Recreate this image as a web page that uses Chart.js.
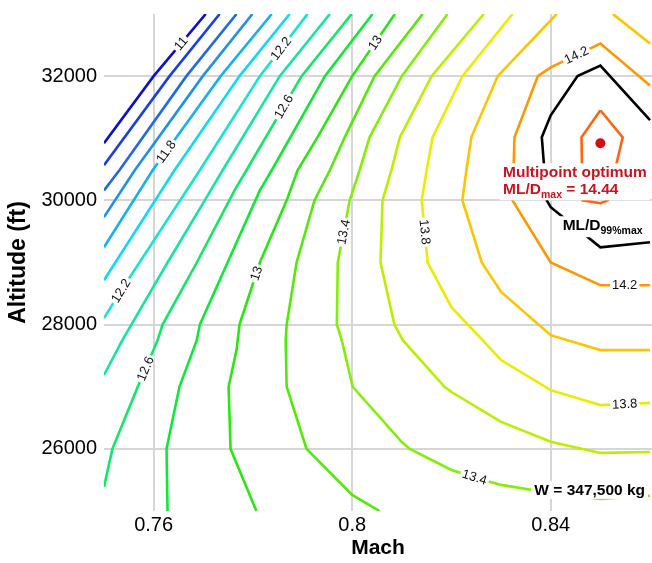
<!DOCTYPE html>
<html><head><meta charset="utf-8">
<script src="https://cdn.jsdelivr.net/npm/chart.js@4/dist/chart.umd.min.js"></script>
<style>html,body{margin:0;padding:0;background:#fff}#wrap{width:652px;height:563px}</style>
</head><body><div id="wrap"><canvas id="c" width="652" height="563"></canvas></div>
<script>
// ---- data (Mach, Altitude ft) ----
const machTicks = [0.76, 0.80, 0.84];
const altTicks = [26000, 28000, 30000, 32000];

const c11_0 = [[0.7705,33000],[0.7600,32000],[0.7500,30920]];
const c11_2 = [[0.7733,33000],[0.7632,32000],[0.7500,30565]];
const c11_4 = [[0.7767,33000],[0.7666,32000],[0.7531,30485],[0.7500,30160]];
const c11_6 = [[0.7799,33000],[0.7699,32000],[0.7562,30485],[0.7500,29730]];
const c11_8 = [[0.7838,33000],[0.7735,32000],[0.7598,30485],[0.7500,29245]];
const c12_0 = [[0.7874,33000],[0.7773,32000],[0.7642,30485],[0.7500,28715]];
const c12_2 = [[0.7910,33000],[0.7814,32000],[0.7693,30485],[0.7535,28555],[0.7500,28105]];
const c12_4 = [[0.7955,33000],[0.7854,32000],[0.7739,30485],[0.7703,30000],[0.7628,29000],[0.7537,27750],[0.7500,27190]];
const c12_6 = [[0.7999,33000],[0.7898,32000],[0.7787,30485],[0.7763,30160],[0.7687,29000],[0.7618,28000],[0.7608,27750],[0.7568,27000],[0.7517,26000],[0.7500,25385]];
const c12_8 = [[0.8041,33000],[0.7945,32000],[0.7838,30485],[0.7814,30160],[0.7749,29000],[0.7693,28000],[0.7687,27750],[0.7652,27000],[0.7626,26000],[0.7628,25000]];
const c13_0 = [[0.8086,33000],[0.8000,32000],[0.7930,31015],[0.7890,30485],[0.7868,30000],[0.7814,29000],[0.7773,28000],[0.7767,27590],[0.7751,27000],[0.7755,26000],[0.7807,25000]];
const c13_2 = [[0.8142,33000],[0.8045,32000],[0.7985,31015],[0.7955,30485],[0.7924,30000],[0.7888,29000],[0.7868,28000],[0.7866,27750],[0.7868,27000],[0.7908,26000],[0.8000,25260],[0.8055,25000]];
const c13_4 = [[0.8192,33000],[0.8100,32000],[0.8035,31015],[0.8015,30485],[0.7995,30000],[0.7971,29000],[0.7969,28000],[0.7979,27750],[0.8001,27000],[0.8100,26110],[0.8116,26000],[0.8200,25660],[0.8277,25470],[0.8300,25420],[0.8400,25290],[0.8500,25195],[0.8600,25245]];
const c13_6 = [[0.8265,33000],[0.8160,32000],[0.8096,31015],[0.8079,30485],[0.8061,30000],[0.8057,29000],[0.8085,28000],[0.8102,27750],[0.8186,27000],[0.8200,26915],[0.8300,26435],[0.8400,26115],[0.8500,25935],[0.8600,25950]];
const c13_8 = [[0.8323,33000],[0.8222,32000],[0.8162,31015],[0.8150,30485],[0.8140,30000],[0.8152,29000],[0.8200,28280],[0.8233,28000],[0.8257,27800],[0.8300,27430],[0.8400,26945],[0.8500,26705],[0.8600,26740]];
const c14_0a = [[0.8412,33000],[0.8293,32000],[0.8240,31015],[0.8230,30485],[0.8222,30000],[0.8261,29000],[0.8300,28525],[0.8400,27830],[0.8500,27590],[0.8600,27590]];
const c14_0b = [[0.8525,33000],[0.8600,32525]];
const c14_2 = [[0.8600,28635],[0.8500,28635],[0.8400,29000],[0.8323,30000],[0.8327,31015],[0.8374,32000],[0.8400,32140],[0.8500,32525],[0.8600,31850]];
const cML99 = [[0.8600,29325],[0.8500,29245],[0.8400,29890],[0.8392,30000],[0.8382,31015],[0.8400,31370],[0.8454,32000],[0.8500,32170],[0.8600,31290]];
const c14_4 = [[0.8500,31450],[0.8545,31015],[0.8515,30000],[0.8500,29955],[0.8464,30000],[0.8462,31015],[0.8500,31450]];

const optimumPoint = [0.85, 30920];
const optimumValue = 14.44;
const weightText = 'W = 347,500 kg';

const contourLevels = [11.0,11.2,11.4,11.6,11.8,12.0,12.2,12.4,12.6,12.8,13.0,13.2,13.4,13.6,13.8,14.0,14.0,14.2,14.3,14.4];
const contourLines  = [c11_0,c11_2,c11_4,c11_6,c11_8,c12_0,c12_2,c12_4,c12_6,c12_8,c13_0,c13_2,c13_4,c13_6,c13_8,c14_0a,c14_0b,c14_2,cML99,c14_4];
const contourColors = ['#0b0fd6','#1a3fe6','#1f69ea','#2090ec','#16b2f0','#10d9f2','#12e6cc','#14e79c','#10e868','#10e838','#28e810','#52ea08','#84ee08','#b8f000','#ecec00','#ffc400','#ffc400','#ff9800','#000000','#ff6410'];

const contourLabels = [
  {text:'11',   level:11.0, m:0.7655, a:32525},
  {text:'11.8', level:11.8, m:0.7626, a:30778},
  {text:'12.2', level:12.2, m:0.7857, a:32441},
  {text:'12.2', level:12.2, m:0.7538, a:28527},
  {text:'12.6', level:12.6, m:0.7864, a:31502},
  {text:'12.6', level:12.6, m:0.7582, a:27296},
  {text:'13',   level:13.0, m:0.8045, a:32547},
  {text:'13',   level:13.0, m:0.7807, a:28823},
  {text:'13.4', level:13.4, m:0.7981, a:29492},
  {text:'13.8', level:13.8, m:0.8146, a:29492},
  {text:'13.4', level:13.4, m:0.8247, a:25553},
  {text:'13.8', level:13.8, m:0.8549, a:26706},
  {text:'14.2', level:14.2, m:0.8549, a:28635},
  {text:'14.2', level:14.2, m:0.8452, a:32333}
];

// annotation anchors (data coords)
const noteOpt = {m:0.8304, a1:30371, a2:30098};
const noteML99 = {m:0.8424, a:29519};
const noteW = {m:0.8367, a:25259};

const F = '"Liberation Sans", Arial, Helvetica, sans-serif';

const datasets = contourLines.map((pts, i) => ({
  data: pts.map(p => ({x:p[0], y:p[1]})),
  showLine: true, borderColor: contourColors[i], backgroundColor: contourColors[i],
  borderWidth: 2.6, pointRadius: 0, pointHoverRadius: 0, tension: 0, fill: false
}));
datasets.push({
  data: [{x:optimumPoint[0], y:optimumPoint[1]}],
  showLine: false, pointRadius: 5, pointBackgroundColor: '#d40d12', pointBorderColor: '#d40d12', pointBorderWidth: 0
});

function nearestOnLine(px, py, pts) {
  let best = null;
  for (let i = 0; i < pts.length - 1; i++) {
    const [x0, y0] = pts[i], [x1, y1] = pts[i+1];
    const dx = x1 - x0, dy = y1 - y0;
    const L = dx*dx + dy*dy;
    let t = L ? ((px - x0)*dx + (py - y0)*dy) / L : 0;
    t = Math.max(0, Math.min(1, t));
    const qx = x0 + t*dx, qy = y0 + t*dy;
    const d = (qx-px)*(qx-px) + (qy-py)*(qy-py);
    if (!best || d < best.d) {
      let ax = dx, ay = dy;
      if (ax < 0) { ax = -ax; ay = -ay; }
      best = {d, x:qx, y:qy, ang: Math.atan2(ay, ax)};
    }
  }
  return best;
}

function richDraw(ctx, parts, x, y, draw) {
  let cx = x;
  parts.forEach(p => {
    ctx.font = 'bold ' + p.size + 'px ' + F;
    if (draw) ctx.fillText(p.t, cx, y + (p.dy || 0));
    cx += ctx.measureText(p.t).width;
  });
  return cx - x;
}

const overlay = {
  id: 'overlay',
  afterDatasetsDraw(chart) {
    const {ctx, scales:{x, y}, chartArea:ca} = chart;
    ctx.save();
    ctx.beginPath(); ctx.rect(ca.left, ca.top, ca.width, ca.height); ctx.clip();
    ctx.font = '13px ' + F;
    ctx.textAlign = 'center'; ctx.textBaseline = 'middle';
    contourLabels.forEach(l => {
      const idx = contourLevels.indexOf(l.level);
      const pts = contourLines[idx].map(p => [x.getPixelForValue(p[0]), y.getPixelForValue(p[1])]);
      const n = nearestOnLine(x.getPixelForValue(l.m), y.getPixelForValue(l.a), pts);
      const w = ctx.measureText(l.text).width;
      ctx.save();
      ctx.translate(n.x, n.y); ctx.rotate(n.ang);
      ctx.fillStyle = '#fff';
      ctx.fillRect(-w/2 - 2, -4, w + 4, 8);
      ctx.fillStyle = '#111';
      ctx.fillText(l.text, 0, 0.5);
      ctx.restore();
    });
    ctx.textAlign = 'left'; ctx.textBaseline = 'alphabetic';
    const ox = x.getPixelForValue(noteOpt.m), oy1 = y.getPixelForValue(noteOpt.a1), oy2 = y.getPixelForValue(noteOpt.a2);
    const line1 = [{t:'Multipoint optimum', size:15.5}];
    const line2 = [{t:'ML/D', size:15.5}, {t:'max', size:10.5, dy:4}, {t:' = ' + optimumValue.toFixed(2), size:15.5}];
    const w1 = richDraw(ctx, line1, ox, oy1, false), w2 = richDraw(ctx, line2, ox, oy2, false);
    ctx.fillStyle = '#fff';
    ctx.fillRect(ox - 3, oy1 - 14, Math.max(w1, w2) + 6, oy2 - oy1 + 20);
    ctx.fillStyle = '#cc1420';
    richDraw(ctx, line1, ox, oy1, true);
    richDraw(ctx, line2, ox, oy2, true);
    const mx = x.getPixelForValue(noteML99.m), my = y.getPixelForValue(noteML99.a);
    const ml = [{t:'ML/D', size:15.5}, {t:'99%max', size:10.5, dy:4}];
    const wm = richDraw(ctx, ml, mx, my, false);
    ctx.fillStyle = '#fff';
    ctx.fillRect(mx - 3, my - 14, wm + 6, 21);
    ctx.fillStyle = '#000';
    richDraw(ctx, ml, mx, my, true);
    const wx = x.getPixelForValue(noteW.m), wy = y.getPixelForValue(noteW.a);
    const wp = [{t:weightText, size:15.5}];
    const ww = richDraw(ctx, wp, wx, wy, false);
    ctx.fillStyle = '#fff';
    ctx.fillRect(wx - 3, wy - 14, ww + 6, 18);
    ctx.fillStyle = '#000';
    richDraw(ctx, wp, wx, wy, true);
    ctx.restore();
  }
};

new Chart(document.getElementById('c'), {
  type: 'scatter',
  data: {datasets},
  options: {
    responsive: false, animation: false, events: [],
    layout: {autoPadding: false, padding: {top: 14, right: 0, left: 0, bottom: 0}},
    plugins: {legend: {display: false}, tooltip: {enabled: false}},
    scales: {
      x: {
        type: 'linear', min: 0.75, max: 0.8604,
        afterBuildTicks: s => { s.ticks = machTicks.map(v => ({value: v})); },
        afterFit: s => { s.height = 52; s.paddingLeft = 0; s.paddingRight = 0; },
        grid: {color: '#d6d6d6', lineWidth: 2, drawTicks: false},
        border: {display: false},
        ticks: {font: {family: F, size: 20}, color: '#000', padding: 2, callback: v => String(v)},
        title: {display: true, text: 'Mach', font: {family: F, size: 21, weight: 'bold'}, color: '#000', padding: {top: 0, bottom: 2}}
      },
      y: {
        type: 'linear', min: 25000, max: 33000,
        afterBuildTicks: s => { s.ticks = altTicks.map(v => ({value: v})); },
        afterFit: s => { s.width = 104; s.paddingTop = 0; s.paddingBottom = 0; },
        grid: {color: '#d6d6d6', lineWidth: 2, drawTicks: false},
        border: {display: false},
        ticks: {font: {family: F, size: 20}, color: '#000', padding: 7, callback: v => String(v)},
        title: {display: true, text: 'Altitude (ft)', font: {family: F, size: 23, weight: 'bold'}, color: '#000', padding: {top: 5, bottom: 0}}
      }
    }
  },
  plugins: [overlay]
});
</script>
</body></html>
